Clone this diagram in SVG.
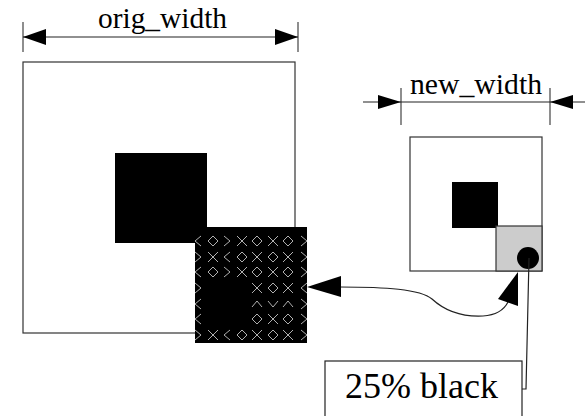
<svg xmlns="http://www.w3.org/2000/svg" xmlns:xlink="http://www.w3.org/1999/xlink" width="585" height="416" viewBox="0 0 585 416">
<style>
.ln{stroke:#222;stroke-width:1.2;fill:none}
.ext{stroke:#444;stroke-width:1.2;fill:none}
.ah{fill:#000;stroke:none}
.sym{stroke:#b0b0b0;stroke-width:1;fill:none}
.txt{font-family:"Liberation Serif","Times New Roman",serif;fill:#000}
</style>
<defs>
<g id="dia"><path class="sym" d="M0,-5 L5,0 L0,5 L-5,0 Z"/></g>
<g id="ex"><path class="sym" d="M-5,-5 L5,5 M-5,5 L5,-5"/></g>
<g id="lt"><path class="sym" d="M3,-5 L-3,0 L3,5"/></g>
<g id="gt"><path class="sym" d="M-3,-5 L3,0 L-3,5"/></g>
<g id="up"><path class="sym" d="M-5,3 L0,-3 L5,3"/></g>
<g id="dn"><path class="sym" d="M-5,-3 L0,3 L5,-3"/></g>
<clipPath id="pc"><rect x="195" y="227" width="112" height="116"/></clipPath>
</defs>

<g id="orig-dim">
<path class="ext" d="M23,22 V52 M298,22 V52"/>
<path class="ln" d="M23,37 H298"/>
<path class="ah" d="M23,37 L46,29 L46,45 Z"/>
<path class="ah" d="M298,37 L275,29 L275,45 Z"/>
<text class="txt" x="98" y="28" font-size="29" textLength="129" lengthAdjust="spacingAndGlyphs">orig_width</text>
</g>

<g id="orig-image">
<rect x="23" y="62" width="272" height="271" fill="#fff" stroke="#333" stroke-width="1.2"/>
<rect x="115" y="153" width="92" height="90" fill="#000"/>
</g>

<g id="patterned">
<rect x="195" y="227" width="112" height="116" fill="#000"/>
<g clip-path="url(#pc)">
<use xlink:href="#lt" x="198" y="241"/><use xlink:href="#dia" x="213" y="241"/><use xlink:href="#gt" x="227" y="241"/><use xlink:href="#ex" x="242" y="241"/><use xlink:href="#dia" x="257" y="241"/><use xlink:href="#ex" x="273" y="241"/><use xlink:href="#dia" x="288" y="241"/><use xlink:href="#gt" x="304" y="241"/>
<use xlink:href="#gt" x="198" y="257"/><use xlink:href="#ex" x="213" y="257"/><use xlink:href="#lt" x="227" y="257"/><use xlink:href="#dia" x="242" y="257"/><use xlink:href="#ex" x="257" y="257"/><use xlink:href="#dia" x="273" y="257"/><use xlink:href="#ex" x="288" y="257"/><use xlink:href="#gt" x="304" y="257"/>
<use xlink:href="#lt" x="198" y="272"/><use xlink:href="#dia" x="213" y="272"/><use xlink:href="#gt" x="227" y="272"/><use xlink:href="#ex" x="242" y="272"/><use xlink:href="#dia" x="257" y="272"/><use xlink:href="#ex" x="273" y="272"/><use xlink:href="#dia" x="288" y="272"/><use xlink:href="#gt" x="304" y="272"/>
<use xlink:href="#gt" x="198" y="288"/><use xlink:href="#ex" x="257" y="288"/><use xlink:href="#dia" x="273" y="288"/><use xlink:href="#ex" x="288" y="288"/><use xlink:href="#lt" x="304" y="288"/>
<use xlink:href="#lt" x="198" y="304"/><use xlink:href="#up" x="257" y="304"/><use xlink:href="#dn" x="273" y="304"/><use xlink:href="#up" x="288" y="304"/><use xlink:href="#gt" x="304" y="304"/>
<use xlink:href="#lt" x="198" y="319"/><use xlink:href="#dia" x="257" y="319"/><use xlink:href="#ex" x="273" y="319"/><use xlink:href="#dia" x="288" y="319"/><use xlink:href="#gt" x="304" y="319"/>
<use xlink:href="#gt" x="198" y="335"/><use xlink:href="#ex" x="213" y="335"/><use xlink:href="#lt" x="227" y="335"/><use xlink:href="#dia" x="242" y="335"/><use xlink:href="#ex" x="257" y="335"/><use xlink:href="#dia" x="273" y="335"/><use xlink:href="#ex" x="288" y="335"/><use xlink:href="#gt" x="304" y="335"/>
</g>
</g>

<g id="new-dim">
<path class="ext" d="M401,88 V125 M550,88 V125"/>
<path class="ln" d="M363,102 H585"/>
<path class="ah" d="M401,102 L378,95 L378,109 Z"/>
<path class="ah" d="M550,102 L573,95 L573,109 Z"/>
<text class="txt" x="410" y="94" font-size="29" textLength="132" lengthAdjust="spacingAndGlyphs">new_width</text>
</g>

<g id="new-image">
<rect x="410" y="137" width="132" height="134" fill="#fff" stroke="#333" stroke-width="1.2"/>
<rect x="452" y="182" width="46" height="46" fill="#000"/>
<rect x="496" y="226" width="46" height="45" fill="#ccc" stroke="#333" stroke-width="1.2"/>
<circle cx="528" cy="258" r="11" fill="#000"/>
</g>

<g id="label">
<rect x="325" y="361" width="197" height="60" fill="#fff" stroke="#222" stroke-width="1.2"/>
<text class="txt" x="345" y="398" font-size="36" textLength="153" lengthAdjust="spacingAndGlyphs">25% black</text>
</g>

<g id="connectors">
<path class="ln" d="M340,287 C385,287 420,289 432,299 C445,311 463,317 483,316 C498,315 505,308 508,302"/>
<path class="ah" d="M307,287 L341,276 L341,297 Z"/>
<path class="ah" d="M518,272 L498,299 L518,306 Z"/>
<path class="ln" d="M529,258 L526,389 L522,389"/>
</g>
</svg>
